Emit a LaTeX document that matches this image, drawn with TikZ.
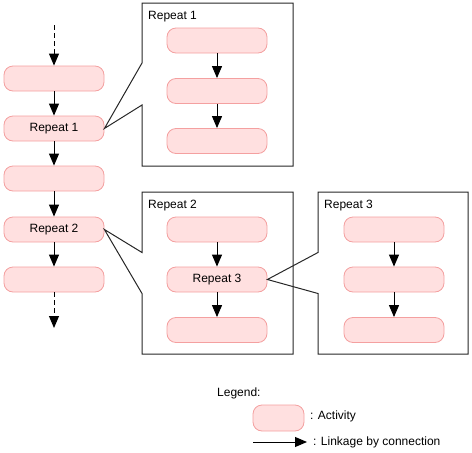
\documentclass[tikz,border=0pt]{standalone}
\usepackage{fontspec}
\setmainfont{Liberation Sans}
\usetikzlibrary{arrows.meta}
\definecolor{actfill}{HTML}{FFE0E0}
\definecolor{actdraw}{HTML}{F4A0A0}
\begin{document}
\begin{tikzpicture}[x=1pt,y=-1pt,
  act/.style={draw=actdraw,fill=actfill,rounded corners=9pt,minimum width=100pt,minimum height=25pt,inner sep=0pt,line width=0.8pt,font=\fontsize{12}{14}\selectfont},
  lbl/.style={anchor=west,inner sep=0pt,font=\fontsize{12}{14}\selectfont},
  link/.style={-{Triangle[length=12pt,width=10pt]},line width=1pt},
  dlink/.style={link,dash pattern=on 5pt off 3pt},
  callout/.style={draw=black!85,line width=1pt,line join=miter}]
\useasboundingbox (0,0) rectangle (472,453);
% left column
\coordinate (top) at (54,25);
\node[act] (l1) at (54,78.5) {};
\node[act] (l2) at (54,128.5) {Repeat 1};
\node[act] (l3) at (54,178.5) {};
\node[act] (l4) at (54,229.5) {Repeat 2};
\node[act] (l5) at (54,279.5) {};
\coordinate (bot) at (54,328);
\draw[dlink] (top) -- (l1.north);
\draw[link] (l1) -- (l2);
\draw[link] (l2) -- (l3);
\draw[link] (l3) -- (l4);
\draw[link] (l4) -- (l5);
\draw[dlink] (l5.south) -- (bot);
% Repeat 1 box
\draw[callout] (142,63) -- (142,3) -- (293,3) -- (293,166) -- (142,166) -- (142,105) -- (l2.east) -- cycle;
\node[lbl] (t1) at (148,17) {Repeat 1};
\node[act] (a1) at (217,40.5) {};
\node[act] (a2) at (217,91) {};
\node[act] (a3) at (217,141) {};
\draw[link] (a1) -- (a2);
\draw[link] (a2) -- (a3);
% Repeat 2 box
\draw[callout] (142,252.5) -- (142,192) -- (293,192) -- (293,354) -- (142,354) -- (142,293.5) -- (l4.east) -- cycle;
\node[lbl] (t2) at (148,206) {Repeat 2};
\node[act] (b1) at (217,229.5) {};
\node[act] (b2) at (217,279.5) {Repeat 3};
\node[act] (b3) at (217,330) {};
\draw[link] (b1) -- (b2);
\draw[link] (b2) -- (b3);
% Repeat 3 box
\draw[callout] (318,252.5) -- (318,192) -- (468,192) -- (468,354) -- (318,354) -- (318,293.5) -- (b2.east) -- cycle;
\node[lbl] (t3) at (324,206) {Repeat 3};
\node[act] (c1) at (394,229.5) {};
\node[act] (c2) at (394,279.5) {};
\node[act] (c3) at (394,330) {};
\draw[link] (c1) -- (c2);
\draw[link] (c2) -- (c3);
% legend
\node[lbl] (lg) at (217,393) {Legend:};
\node[act,minimum width=51pt,minimum height=26pt] (la) at (278.5,418) {};
\node[lbl] (lat) at (310,416) {: Activity};
\coordinate (ls) at (253,442);
\coordinate (le) at (307,442);
\draw[link] (ls) -- (le);
\node[lbl] (llt) at (313,442) {: Linkage by connection};
\end{tikzpicture}
\end{document}
